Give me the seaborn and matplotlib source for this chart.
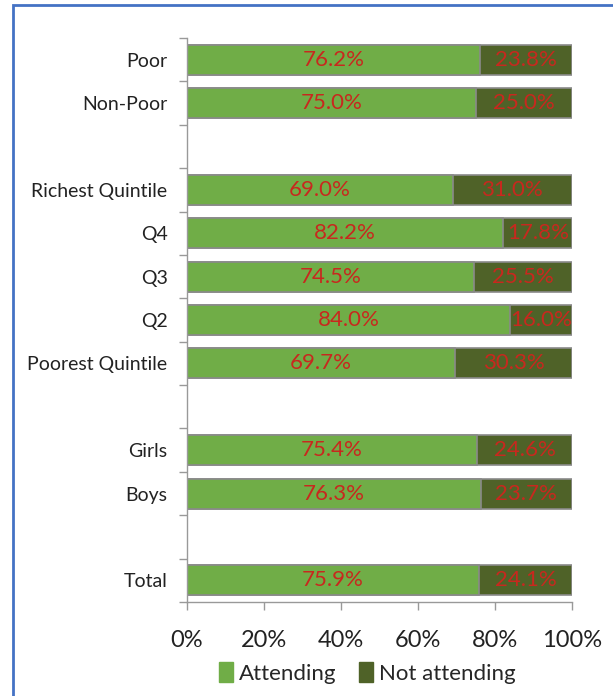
import matplotlib
matplotlib.use("Agg")
import matplotlib.pyplot as plt
import matplotlib.patches as mpatches
from matplotlib.ticker import FixedLocator, PercentFormatter
import seaborn as sns
import pandas as pd

# Groups shown top to bottom; blank entries separate the blocks
categories = ["Poor", "Non-Poor", " ",
              "Richest Quintile", "Q4", "Q3", "Q2", "Poorest Quintile", "  ",
              "Girls", "Boys", "   ", "Total"]
attending = [76.2, 75.0, None, 69.0, 82.2, 74.5, 84.0, 69.7, None, 75.4, 76.3, None, 75.9]
not_attending = [23.8, 25.0, None, 31.0, 17.8, 25.5, 16.0, 30.3, None, 24.6, 23.7, None, 24.1]
x_ticks = [0, 20, 40, 60, 80, 100]

green = "#70AD47"
dark = "#4F6228"
edge = "#8A8A8A"
label_red = "#C8281E"

sns.set_theme(style="white")
plt.rcParams["font.family"] = ["Lato", "DejaVu Sans"]

df = pd.DataFrame({"cat": categories, "att": attending, "non": not_attending})
df["total"] = df["att"] + df["non"]

fig = plt.figure(figsize=(6.13, 6.96), dpi=100)
ax = fig.add_axes([187 / 613, 1 - 602 / 696, (572 - 187) / 613, (602 - 38) / 696])

# stacked horizontal bars: full length in dark, attending share on top in green
sns.barplot(data=df, y="cat", x="total", order=categories, color=dark,
            width=0.69, edgecolor=edge, linewidth=1.2, saturation=1, ax=ax, orient="h")
sns.barplot(data=df, y="cat", x="att", order=categories, color=green,
            width=0.69, edgecolor=edge, linewidth=1.2, saturation=1, ax=ax, orient="h")

for i, (a, n) in enumerate(zip(attending, not_attending)):
    if a is None:
        continue
    ax.text(a / 2, i, f"{a:.1f}%", ha="center", va="center", color=label_red, fontsize=16)
    ax.text(a + n / 2, i, f"{n:.1f}%", ha="center", va="center", color=label_red, fontsize=16)

ax.set_xlim(0, 100)
ax.set_ylim(len(categories) - 0.5, -0.5)
ax.set_xlabel("")
ax.set_ylabel("")

ax.xaxis.set_major_locator(FixedLocator(x_ticks))
ax.xaxis.set_major_formatter(PercentFormatter(decimals=0))
ax.tick_params(axis="x", which="major", bottom=True, length=6, width=1, color="#999999",
               labelsize=17, pad=14, labelcolor="#222222")
ax.tick_params(axis="y", which="major", left=False, labelsize=14, pad=8, labelcolor="#222222")
ax.yaxis.set_minor_locator(FixedLocator([i - 0.5 for i in range(len(categories) + 1)]))
ax.tick_params(axis="y", which="minor", left=True, length=6, width=1, color="#999999")

for side in ["top", "right"]:
    ax.spines[side].set_visible(False)
for side in ["left", "bottom"]:
    ax.spines[side].set_color("#999999")
    ax.spines[side].set_linewidth(1)

handles = [mpatches.Patch(facecolor=green, edgecolor=green, label="Attending"),
           mpatches.Patch(facecolor=dark, edgecolor=dark, label="Not attending")]
fig.legend(handles=handles, loc="center", bbox_to_anchor=(367 / 613, 1 - 673 / 696),
           ncol=2, frameon=False, fontsize=16, handlelength=0.65, handleheight=0.95,
           handletextpad=0.25, columnspacing=1.0)

# blue frame around the figure
fig.patches.append(mpatches.Rectangle((13 / 613, -0.01), 1.0, 1 - 5 / 696 + 0.01,
                                      transform=fig.transFigure, fill=False,
                                      edgecolor="#4472C4", linewidth=2))

fig.savefig("out.png", dpi=100)
